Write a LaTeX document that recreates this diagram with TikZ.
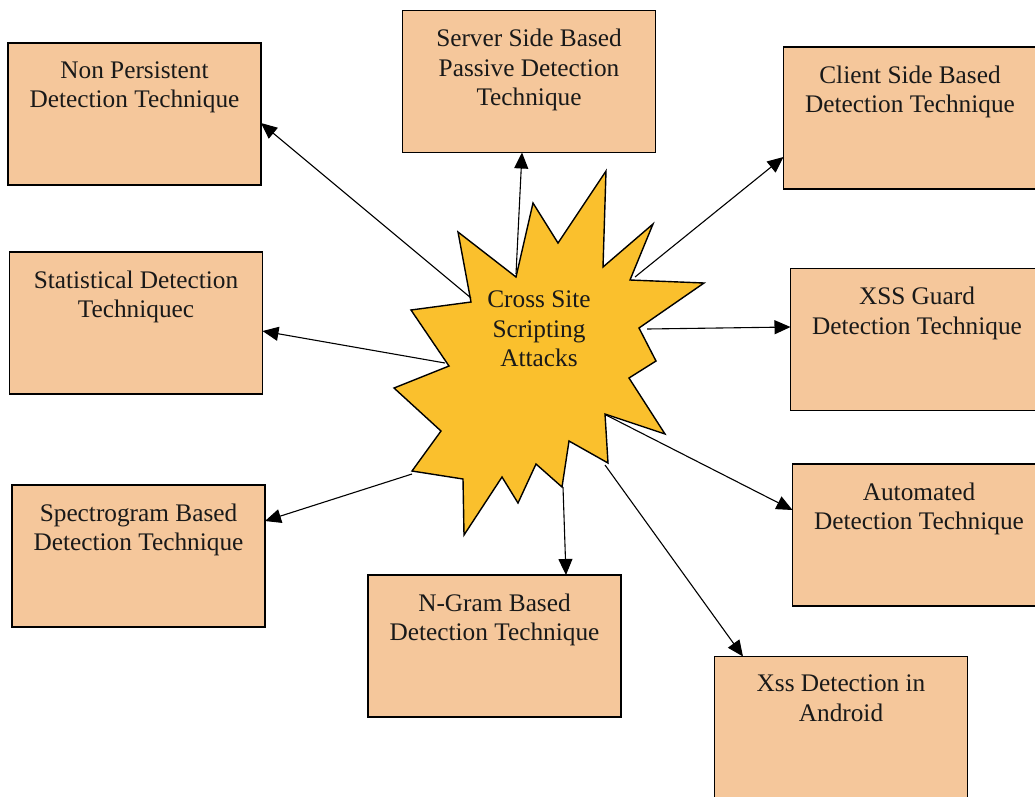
\documentclass[tikz,border=0pt]{standalone}
\usepackage{fontspec}
\setmainfont{Liberation Serif}
\usetikzlibrary{arrows.meta}
\definecolor{peach}{RGB}{245,199,155}
\definecolor{gold}{RGB}{250,192,45}
\tikzset{
  box/.style={draw=black, line width=1.8pt, fill=peach, minimum width=253pt, minimum height=142pt, inner sep=0pt, outer sep=0pt},
  lab/.style={anchor=north, inner sep=0pt, align=center, font=\fontsize{25.3}{29.5}\selectfont, text=black!90},
  conn/.style={line width=1.1pt, -{Triangle[length=16pt,width=14pt]}},
}
\begin{document}
\begin{tikzpicture}[x=1pt,y=-1pt]
\useasboundingbox (0,0) rectangle (1035,796);
\clip (0,0) rectangle (1035,796);
\fill[white] (0,0) rectangle (1035,796);

% boxes
\node[box] (np) at (134.5,114) {};
\node[box] (ss) at (529,81.5) {};
\node[box] (cs) at (910,118) {};
\node[box] (st) at (136,323) {};
\node[box] (xg) at (917,339.5) {};
\node[box] (sp) at (138.5,556) {};
\node[box] (au) at (919,535) {};
\node[box] (ng) at (494.5,646) {};
\node[box] (an) at (841,727.5) {};

\node[lab] (npt) at ([yshift=-18.5pt]np.north) {Non Persistent\\Detection Technique};
\node[lab] (sst) at ([yshift=-18.5pt]ss.north) {Server Side Based\\Passive Detection\\Technique};
\node[lab] (cst) at ([yshift=-18.5pt]cs.north) {Client Side Based\\Detection Technique};
\node[lab] (stt) at ([yshift=-18.5pt]st.north) {Statistical Detection\\Techniquec};
\node[lab] (xgt) at ([yshift=-18.5pt]xg.north) {XSS Guard\\Detection Technique};
\node[lab] (spt) at ([yshift=-18.5pt]sp.north) {Spectrogram Based\\Detection Technique};
\node[lab] (aut) at ([yshift=-18.5pt]au.north) {Automated\\Detection Technique};
\node[lab] (ngt) at ([yshift=-18.5pt]ng.north) {N-Gram Based\\Detection Technique};
\node[lab] (ant) at ([yshift=-18.5pt]an.north) {Xss Detection in\\Android};

% star
\draw[fill=gold, line width=1.4pt, line join=miter]
 (458,232) -- (516,277) -- (533,203) -- (558,243) -- (606,171) -- (603,267)
 -- (653,224) -- (630,280) -- (704,283) -- (639,328) -- (656,361) -- (629,378)
 -- (665,434) -- (605,414) -- (608,463) -- (569,441) -- (562,487) -- (536,464)
 -- (518,503) -- (502,477) -- (464,535) -- (463,479) -- (412,471) -- (441,431)
 -- (394,388) -- (449,366) -- (411,310) -- (471,302) -- cycle;
\node[align=center, inner sep=0pt, font=\fontsize{25.3}{29.5}\selectfont, text=black!90] (xss) at (539,329) {Cross Site\\Scripting\\Attacks};

% connector start points on the star
\coordinate (s1) at (471,298);
\coordinate (s2) at (516,274);
\coordinate (s3) at (635,277);
\coordinate (s4) at (445,363);
\coordinate (s5) at (647,329);
\coordinate (s6) at (412,474);
\coordinate (s7) at (563,487);
\coordinate (s8) at (605,465);
\coordinate (s9) at (606,415);

% connector end points on the boxes
\coordinate (e1) at (np.east |- 0,123);
\coordinate (e2) at (ss.south -| 522,0);
\coordinate (e3) at (cs.west |- 0,157);
\coordinate (e4) at (st.east |- 0,331);
\coordinate (e5) at (xg.west |- 0,327);
\coordinate (e6) at (sp.east |- 0,521);
\coordinate (e7) at (ng.north -| 566,0);
\coordinate (e8) at (an.north -| 743,0);
\coordinate (e9) at (au.west |- 0,510);

\draw[conn] (s1) -- (e1);
\draw[conn] (s2) -- (e2);
\draw[conn] (s3) -- (e3);
\draw[conn] (s4) -- (e4);
\draw[conn] (s5) -- (e5);
\draw[conn] (s6) -- (e6);
\draw[conn] (s7) -- (e7);
\draw[conn] (s8) -- (e8);
\draw[conn] (s9) -- (e9);
\end{tikzpicture}
\end{document}
